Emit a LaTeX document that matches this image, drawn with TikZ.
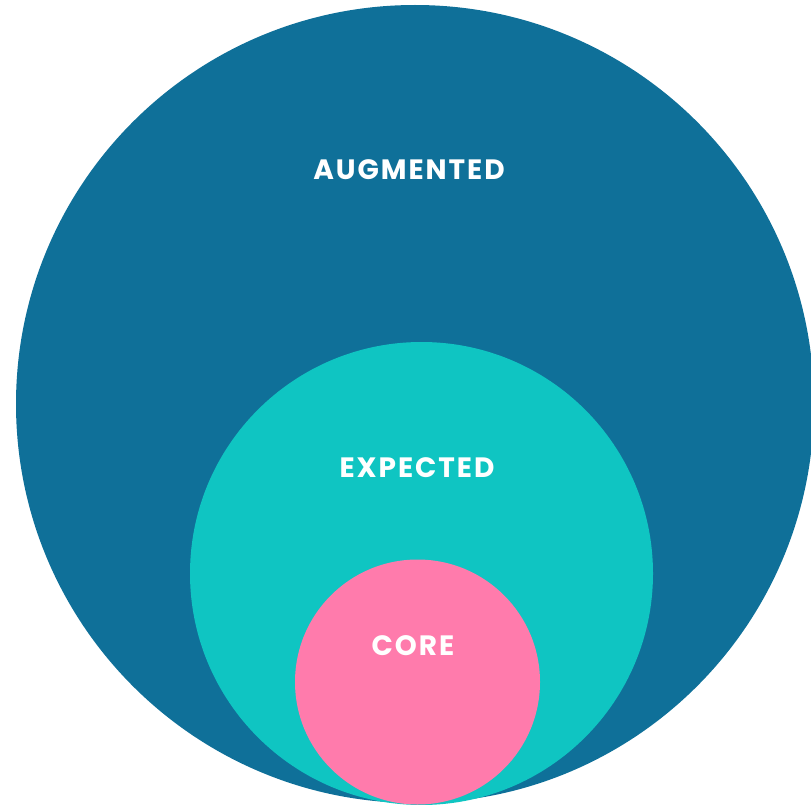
\documentclass[tikz,border=0pt]{standalone}
\usepackage{fontspec}
\setmainfont{Poppins}[BoldFont={* Bold}]
\newfontfamily\lblfont{Poppins Bold}[LetterSpace=7]
\definecolor{augblue}{HTML}{0F7099}
\definecolor{exptea}{HTML}{0FC5C2}
\definecolor{corepink}{HTML}{FF7BAC}
\begin{document}
\begin{tikzpicture}[x=1pt, y=-1pt,
    ring/.style={circle, inner sep=0pt, outer sep=0pt},
    lbl/.style={text=white, font=\lblfont\fontsize{28}{30}\selectfont}]
    \useasboundingbox (0,0) rectangle (811,805);
    \clip (0,0) rectangle (811,805);
    % circles
    \node[ring, fill=augblue, minimum size=798pt] (augmented) at (415,404) {};
    \node[ring, fill=exptea, minimum size=463pt] (expected) at (421.5,573.5) {};
    \node[ring, fill=corepink, minimum size=245pt] (core) at (417.5,682) {};

    % labels
    \node[lbl] (augtext) at (409,170) {AUGMENTED};
    \node[lbl] (exptext) at (417,468) {EXPECTED};
    \node[lbl] (coretext) at (413,646) {CORE};
  \end{tikzpicture}
\end{document}
